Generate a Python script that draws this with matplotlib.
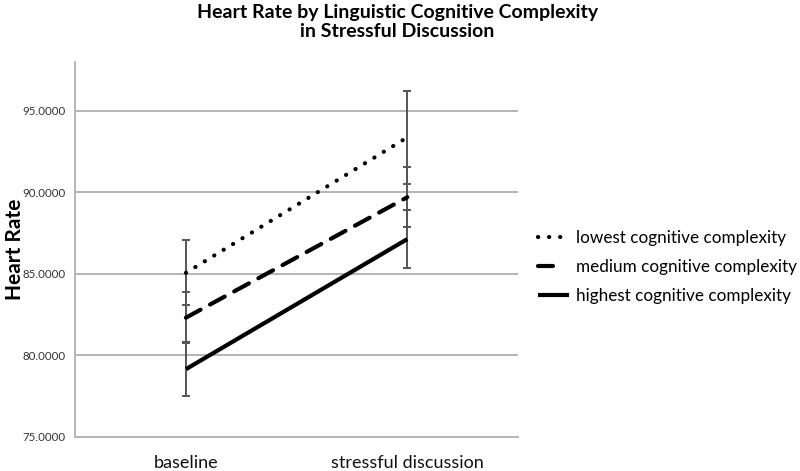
import matplotlib
matplotlib.use("Agg")
import matplotlib.pyplot as plt
from matplotlib.lines import Line2D

categories = ["baseline", "stressful discussion"]
series_names = ["lowest cognitive complexity", "medium cognitive complexity", "highest cognitive complexity"]
lowest = [85.07, 93.38]
medium = [82.32, 89.71]
highest = [79.16, 87.14]
lowest_err = [2.0, 2.83]
medium_err = [1.58, 1.84]
highest_err = [1.64, 1.77]
yticks = [75, 80, 85, 90, 95]

plt.rcParams['font.family'] = ['Lato', 'DejaVu Sans']

fig = plt.figure(figsize=(8.0, 4.71), dpi=100)
ax = fig.add_axes([0.094, 0.0722, 0.5535, 0.796])

xpos = [0.5, 1.5]
styles = [
    dict(linestyle=(0, (0.05, 2.6)), dash_capstyle='round'),
    dict(linestyle=(0, (4.0, 2.6)), dash_capstyle='round'),
    dict(linestyle='-', solid_capstyle='butt'),
]
legend_styles = [
    styles[0],
    dict(linestyle=(0, (3.6, 20)), dash_capstyle='round'),
    styles[2],
]
data = [lowest, medium, highest]
errs = [lowest_err, medium_err, highest_err]

for vals, err in zip(data, errs):
    ax.errorbar(xpos, vals, yerr=err, fmt='none', ecolor='#555555',
                elinewidth=1.4, capsize=3, capthick=1.4, zorder=2)
for vals, st in zip(data, styles):
    ax.plot(xpos, vals, color='black', linewidth=3.0, zorder=3, **st)

ax.set_xlim(0, 2)
ax.set_ylim(75, 98)
ax.set_yticks(yticks)
ax.set_yticklabels([f"{v:.4f}" for v in yticks], fontsize=8.3, color='#333333')
ax.set_xticks(xpos)
ax.set_xticklabels(categories, fontsize=13, color='#111111')
ax.tick_params(axis='both', length=0)
ax.tick_params(axis='x', pad=13)
ax.tick_params(axis='y', pad=7)
for y in yticks[1:]:
    ax.axhline(y, color='#b4b4b4', linewidth=1.4, zorder=1)
for s in ['top', 'right']:
    ax.spines[s].set_visible(False)
for s in ['left', 'bottom']:
    ax.spines[s].set_color('#b4b4b4')
    ax.spines[s].set_linewidth(1.4)

fig.text(0.019, 0.47, "Heart Rate", rotation=90, ha='center', va='center',
         fontsize=15, fontweight='bold')

fig.text(0.497, 0.992, "Heart Rate by Linguistic Cognitive Complexity\nin Stressful Discussion",
         ha='center', va='top', fontsize=14, fontweight='bold', linespacing=1.15)

handles = [Line2D([0], [0], color='black', linewidth=3.0, **st) for st in legend_styles]
leg = fig.legend(handles, series_names, loc='center left', bbox_to_anchor=(0.6725, 0.433),
                 frameon=False, fontsize=12.3, handlelength=1.8, handletextpad=0.4,
                 labelspacing=0.75, borderpad=0, borderaxespad=0)

fig.savefig("out.png", dpi=100)
